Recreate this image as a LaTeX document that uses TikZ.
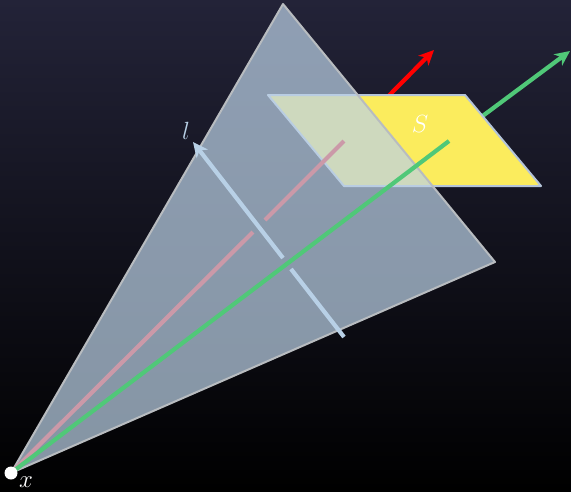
\documentclass[tikz,border=0pt]{standalone}
\usetikzlibrary{arrows.meta}
\definecolor{bgtop}{HTML}{232338}
\definecolor{planeY}{HTML}{FBEC5D}
\definecolor{coneC}{HTML}{BCD2E7}
\definecolor{rimC}{HTML}{B8BCC0}
\definecolor{rimS}{HTML}{B4C4D8}
\definecolor{lineG}{HTML}{50C878}
\definecolor{lineP}{HTML}{CB99A8}
\definecolor{lineL}{HTML}{B8D0E6}
\tikzset{
  ray/.style={line width=4.2pt},
  tip/.style={-{Stealth[length=15pt,width=14pt,inset=4.5pt]}},
  lab/.style={inner sep=0pt,font=\fontsize{30}{30}\selectfont},
}
\begin{document}
\begin{tikzpicture}[x=1pt,y=-1pt]
\useasboundingbox (0,0) rectangle (571,491);
\shade[top color=bgtop,bottom color=black] (0,0) rectangle (571,491);
\coordinate (x0) at (11,473);
\coordinate (c1) at (283,4);
\coordinate (c2) at (495,262);
\coordinate (s1) at (268,95);
\coordinate (s2) at (465,95);
\coordinate (s3) at (541,186);
\coordinate (s4) at (344,186);
\coordinate (redIn) at (344,141);
\coordinate (redOut) at (434,50);
\coordinate (greenIn) at (449,141);
\coordinate (greenOut) at (570,51);
\coordinate (lTail) at (344,337);
\coordinate (lTip) at (193,142);
\draw[ray,red,tip] (redIn) -- (redOut);
\draw[ray,lineG,tip] (greenIn) -- (greenOut);
\fill[planeY] (s1) -- (s2) -- (s3) -- (s4) -- cycle;
\draw[rimS,line width=2pt,line join=round] (s1) -- (s2) -- (s3) -- (s4) -- cycle;
\fill[coneC,fill opacity=.71] (x0) -- (c1) -- (c2) -- cycle;
\draw[rimC,line width=2pt,line join=round] (x0) -- (c1) -- (c2) -- cycle;
\draw[ray,lineP] (x0) -- (253,232);
\draw[ray,lineP] (265,220) -- (redIn);
\draw[ray,lineG] (x0) -- (greenIn);
\draw[ray,lineL] (lTail) -- (291,269);
\draw[ray,lineL,tip] (283,258) -- (lTip);
\fill[white] (x0) circle (6.5);
\node[lab,text=lineL] (lL) at (186,131) {$l$};
\node[lab,text=white] (lS) at (420,124) {$S$};
\node[lab,text=white] (lX) at (26,482) {$x$};
\end{tikzpicture}
\end{document}
